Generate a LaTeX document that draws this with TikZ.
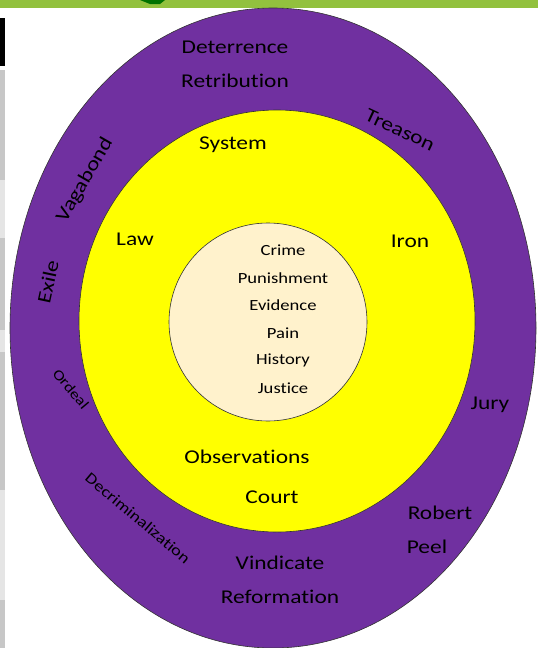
\documentclass[tikz,border=0pt]{standalone}
\usepackage{fontspec}
\setmainfont{Carlito}[FakeStretch=1.2, Ligatures=NoCommon]
\usepackage{tikz}

\definecolor{anillo}{HTML}{7030A0}
\definecolor{medio}{HTML}{FFFF00}
\definecolor{nucleo}{HTML}{FFF2CC}
\definecolor{barra}{HTML}{92C13E}

\begin{document}
\begin{tikzpicture}[x=1pt, y=-1pt,
    palabra/.style={font=\fontsize{19.5}{22}\selectfont, inner sep=0pt},
    chica/.style={font=\fontsize{15.5}{18}\selectfont, inner sep=0pt},
    borde/.style={draw=black!80, line width=0.6pt}]
				\useasboundingbox (0,0) rectangle (538,648);

				% Dibujar los bordes de la captura
				\fill[barra] (0,0) rectangle (538,8);
				\fill[green!45!black] (140,0) -- (165,0) -- (160,4) -- (150,4) -- cycle;
				\fill[black] (0,18) rectangle (5,66);
				\fill[black!22] (0,70) rectangle (5,648);
				\fill[black!10] (0,180) rectangle (5,238);
				\fill[black!10] (0,330) rectangle (5,352);
				\fill[black!10] (0,490) rectangle (5,600);

				% Dibujar los anillos
				\filldraw[borde, fill=anillo] (273,328) ellipse (263 and 320);
				\filldraw[borde, fill=medio] (277,321) ellipse (198 and 211);
				\filldraw[borde, fill=nucleo] (268,322) circle (99);

				% Dibujar las palabras del anillo exterior
				\node[palabra] (deterrence) at (235,47) {Deterrence};
				\node[palabra] (retribution) at (235,81) {Retribution};
				\node[palabra, rotate=-25] (treason) at (400,130) {Treason};
				\node[palabra, rotate=60] (vagabond) at (85,180) {Vagabond};
				\node[palabra, rotate=78] (exile) at (48,282) {Exile};
				\node[font=\fontsize{14.5}{16}\selectfont, inner sep=0pt, rotate=-50] (ordeal) at (71,389) {Ordeal};
				\node[palabra] (jury) at (490,405) {Jury};
				\node[chica, rotate=-40] (decrim) at (138,518) {Decriminalization};
				\node[palabra] (robert) at (440,513) {Robert};
				\node[palabra] (peel) at (427,547) {Peel};
				\node[palabra] (vindicate) at (280,563) {Vindicate};
				\node[palabra] (reformation) at (280,597) {Reformation};

				% Dibujar las palabras del anillo medio
				\node[palabra] (system) at (233,145) {System};
				\node[palabra] (law) at (135,239) {Law};
				\node[palabra] (iron) at (410,241) {Iron};
				\node[palabra] (observations) at (247,457) {Observations};
				\node[palabra] (court) at (272,497) {Court};

				% Dibujar las palabras del centro
				\node[chica] (crime) at (283,250) {Crime};
				\node[chica] (punishment) at (283,278) {Punishment};
				\node[chica] (evidence) at (283,305) {Evidence};
				\node[chica] (pain) at (283,333) {Pain};
				\node[chica] (history) at (283,360) {History};
				\node[chica] (justice) at (283,388) {Justice};

\end{tikzpicture}
\end{document}
